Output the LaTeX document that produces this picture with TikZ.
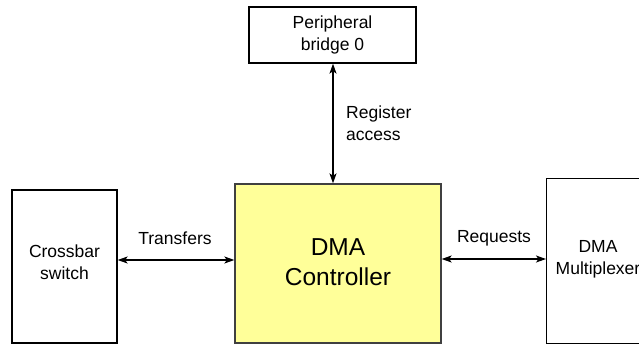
\documentclass[tikz,border=0pt]{standalone}
\usepackage{fontspec}
\setmainfont{Liberation Sans}
\usetikzlibrary{arrows.meta}
\definecolor{dmayellow}{HTML}{FFFF99}
\begin{document}
\begin{tikzpicture}[x=1pt,y=-1pt,
  box/.style={draw=black,line width=1.3pt,inner sep=0pt},
  lbl/.style={font=\fontsize{17.5}{22}\selectfont,align=center,inner sep=0pt},
  conn/.style={line width=1.2pt,{Stealth[length=10pt,width=7pt,inset=2.5pt]}-{Stealth[length=10pt,width=7pt,inset=2.5pt]}}]
\useasboundingbox (0,0) rectangle (639,345);
\node[box,minimum width=167pt,minimum height=56pt] (pb) at (332.5,35) {};
\node[lbl] at (pb.center) {Peripheral\\bridge 0};
\node[box,draw=black!75,fill=dmayellow,minimum width=206pt,minimum height=159pt] (dma) at (338,263.5) {};
\node[font=\fontsize{24.5}{30}\selectfont,align=center,inner sep=0pt] at (338,262) {DMA\\Controller};
\node[box,minimum width=105pt,minimum height=153pt] (cb) at (64.5,266.5) {};
\node[lbl] at (64.5,262) {Crossbar\\switch};
\node[box,minimum width=110pt,minimum height=165pt,anchor=north west] (mux) at (546,178) {};
\node[lbl] at (598,259) {DMA\\Multiplexer};
\draw[conn] (pb.south -| 333,0) -- (dma.north -| 333,0);
\node[lbl,align=left,anchor=west] at (346,123.5) {Register\\access};
\draw[conn] (cb.east |- 0,260) -- (dma.west |- 0,260);
\node[lbl] at (175,238) {Transfers};
\draw[conn] (dma.east |- 0,259) -- (mux.west |- 0,259);
\node[lbl] at (494,238) {Requests};
\end{tikzpicture}
\end{document}
